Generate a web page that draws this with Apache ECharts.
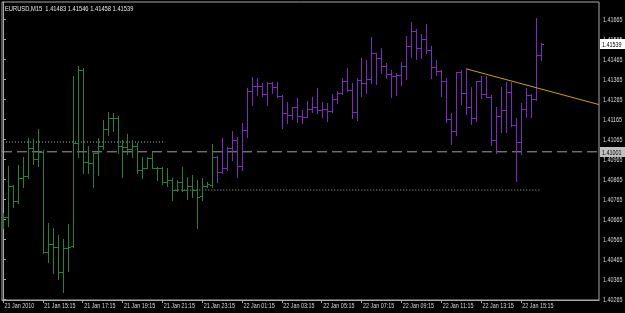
<!DOCTYPE html>
<html>
<head>
<meta charset="utf-8">
<script src="https://cdn.jsdelivr.net/npm/echarts@6/dist/echarts.min.js"></script>
<style>
  html, body { margin: 0; padding: 0; background: #000; }
  #chart { width: 625px; height: 313px; }
</style>
</head>
<body>
<div id="chart"></div>
<script>
// EURUSD M15, 21-22 Jan 2010, one bar per 15 minutes starting 21 Jan 13:15
const symbolTitle = 'EURUSD,M15  1.41483 1.41546 1.41458 1.41539';

const opens = [
  1.40650, 1.40675, 1.40830, 1.40755, 1.40870, 1.40880, 1.41020, 1.40965, 1.41000, 1.40500,
  1.40540, 1.40525, 1.40400, 1.40520, 1.40530, 1.41045, 1.41410, 1.40950, 1.40945, 1.40995,
  1.41030, 1.41115, 1.41170, 1.41170, 1.41030, 1.41025, 1.41015, 1.41030, 1.40910, 1.40920,
  1.40970, 1.40920, 1.40920, 1.40850, 1.40860, 1.40810, 1.40850, 1.40810, 1.40830, 1.40810,
  1.40780, 1.40830, 1.40835, 1.40975, 1.40900, 1.40920, 1.41020, 1.41060, 1.40930, 1.41110,
  1.41305, 1.41330, 1.41330, 1.41290, 1.41345, 1.41325, 1.41280, 1.41195, 1.41185, 1.41225,
  1.41180, 1.41175, 1.41215, 1.41225, 1.41210, 1.41215, 1.41205, 1.41265, 1.41295, 1.41355,
  1.41310, 1.41200, 1.41360, 1.41345, 1.41365, 1.41495, 1.41470, 1.41430, 1.41390, 1.41380,
  1.41385, 1.41430, 1.41530, 1.41605, 1.41520, 1.41565, 1.41510, 1.41425, 1.41405, 1.41355,
  1.41165, 1.41105, 1.41400, 1.41295, 1.41225, 1.41170, 1.41355, 1.41290, 1.41275, 1.41060,
  1.41180, 1.41210, 1.41300, 1.41135, 1.41050, 1.41215, 1.41285, 1.41265, 1.41483
];
const highs = [
  1.40695, 1.40930, 1.40835, 1.40935, 1.40975, 1.41070, 1.41065, 1.41115, 1.41010, 1.40645,
  1.40620, 1.40585, 1.40565, 1.40640, 1.41380, 1.41430, 1.41420, 1.41030, 1.40995, 1.41070,
  1.41160, 1.41200, 1.41195, 1.41180, 1.41060, 1.41090, 1.41060, 1.41045, 1.40975, 1.40975,
  1.41000, 1.40925, 1.40925, 1.40920, 1.40870, 1.40860, 1.40925, 1.40875, 1.40885, 1.40860,
  1.40870, 1.40850, 1.41040, 1.40980, 1.41070, 1.41025, 1.41105, 1.41075, 1.41145, 1.41320,
  1.41375, 1.41370, 1.41345, 1.41350, 1.41350, 1.41350, 1.41285, 1.41250, 1.41225, 1.41270,
  1.41210, 1.41255, 1.41275, 1.41320, 1.41250, 1.41245, 1.41290, 1.41305, 1.41370, 1.41420,
  1.41345, 1.41370, 1.41470, 1.41460, 1.41575, 1.41495, 1.41520, 1.41445, 1.41410, 1.41395,
  1.41450, 1.41580, 1.41650, 1.41615, 1.41590, 1.41640, 1.41530, 1.41460, 1.41410, 1.41370,
  1.41195, 1.41400, 1.41410, 1.41420, 1.41325, 1.41355, 1.41380, 1.41380, 1.41285, 1.41225,
  1.41325, 1.41350, 1.41350, 1.41170, 1.41245, 1.41320, 1.41290, 1.41670, 1.41546
];
const lows = [
  1.40620, 1.40630, 1.40725, 1.40745, 1.40825, 1.40870, 1.40940, 1.40930, 1.40495, 1.40450,
  1.40395, 1.40365, 1.40300, 1.40405, 1.40525, 1.40975, 1.40895, 1.40895, 1.40825, 1.40885,
  1.41015, 1.41085, 1.41105, 1.40995, 1.40875, 1.40990, 1.40975, 1.40895, 1.40870, 1.40920,
  1.40920, 1.40860, 1.40840, 1.40830, 1.40760, 1.40805, 1.40805, 1.40765, 1.40775, 1.40620,
  1.40760, 1.40825, 1.40825, 1.40850, 1.40895, 1.40910, 1.40960, 1.40875, 1.40910, 1.41075,
  1.41235, 1.41285, 1.41280, 1.41235, 1.41295, 1.41275, 1.41120, 1.41145, 1.41165, 1.41150,
  1.41145, 1.41175, 1.41200, 1.41195, 1.41175, 1.41155, 1.41200, 1.41245, 1.41290, 1.41305,
  1.41170, 1.41160, 1.41280, 1.41295, 1.41345, 1.41340, 1.41395, 1.41370, 1.41275, 1.41285,
  1.41335, 1.41365, 1.41475, 1.41465, 1.41470, 1.41495, 1.41370, 1.41385, 1.41280, 1.41150,
  1.41040, 1.41085, 1.41240, 1.41190, 1.41140, 1.41155, 1.41270, 1.41275, 1.41035, 1.40995,
  1.41100, 1.41100, 1.41130, 1.40855, 1.40990, 1.41175, 1.41175, 1.41260, 1.41458
];
const closes = [
  1.40675, 1.40830, 1.40755, 1.40870, 1.40880, 1.41020, 1.40965, 1.41000, 1.40500, 1.40540,
  1.40525, 1.40400, 1.40520, 1.40525, 1.41045, 1.41410, 1.40950, 1.40945, 1.40995, 1.41030,
  1.41115, 1.41170, 1.41170, 1.41030, 1.41025, 1.41015, 1.41030, 1.40910, 1.40920, 1.40970,
  1.40920, 1.40920, 1.40850, 1.40860, 1.40810, 1.40850, 1.40810, 1.40830, 1.40810, 1.40775,
  1.40830, 1.40840, 1.40975, 1.40900, 1.40920, 1.41020, 1.41060, 1.40930, 1.41110, 1.41305,
  1.41330, 1.41330, 1.41290, 1.41345, 1.41325, 1.41280, 1.41195, 1.41185, 1.41225, 1.41180,
  1.41175, 1.41215, 1.41225, 1.41210, 1.41215, 1.41205, 1.41265, 1.41295, 1.41355, 1.41310,
  1.41200, 1.41360, 1.41345, 1.41365, 1.41495, 1.41470, 1.41430, 1.41390, 1.41380, 1.41385,
  1.41430, 1.41530, 1.41605, 1.41520, 1.41565, 1.41510, 1.41425, 1.41405, 1.41355, 1.41165,
  1.41105, 1.41400, 1.41295, 1.41225, 1.41170, 1.41355, 1.41290, 1.41275, 1.41060, 1.41180,
  1.41210, 1.41300, 1.41135, 1.41050, 1.41215, 1.41285, 1.41265, 1.41485, 1.41539
];
// bars before this index are drawn green, the rest purple
const firstPurpleBar = 43;

const timeLabels = ['21 Jan 2010', '21 Jan 15:15', '21 Jan 17:15', '21 Jan 19:15', '21 Jan 21:15',
  '21 Jan 23:15', '22 Jan 01:15', '22 Jan 03:15', '22 Jan 05:15', '22 Jan 07:15',
  '22 Jan 09:15', '22 Jan 11:15', '22 Jan 13:15', '22 Jan 15:15'];
const barsPerLabel = 8;
const priceTicks = [1.41665, 1.41565, 1.41465, 1.41365, 1.41265, 1.41165, 1.41065, 1.40965,
  1.40865, 1.40765, 1.40665, 1.40565, 1.40465, 1.40365, 1.40265];

// drawn objects
const levelLine = 1.41001;
const upperDots = { from: 0, to: 32.6, price: 1.41050 };
const lowerDots = { from: 34.6, to: 108, price: 1.40810 };
const trendStart = [93.15, 1.41415];
const trendEnd = [119.7, 1.41237];
const lastPrice = 1.41539;

const bars = opens.map((o, i) => [i, o, highs[i], lows[i], closes[i]]);
const tickBars = timeLabels.map((_, i) => i * barsPerLabel);

const xMin = -0.2, xMax = 119.7;
const yMin = 1.4026, yMax = 1.4175;

// the terminal font is narrow, so text is squeezed horizontally
const font = '"Liberation Sans", Arial, sans-serif';
const squeeze = 0.72;
const axisGray = '#a8a8a8';
const textGray = '#d8d8d8';

function renderBar(params, api) {
  const i = api.value(0);
  const o = api.coord([i, api.value(1)]);
  const h = api.coord([i, api.value(2)]);
  const l = api.coord([i, api.value(3)]);
  const c = api.coord([i, api.value(4)]);
  const x = Math.round(h[0]) + 0.5;
  const oy = Math.round(o[1]) + 0.5;
  const cy = Math.round(c[1]) + 0.5;
  const style = { stroke: api.visual('color'), lineWidth: 1 };
  return {
    type: 'group',
    children: [
      { type: 'line', shape: { x1: x, y1: Math.round(h[1]), x2: x, y2: Math.round(l[1]) + 1 }, style },
      { type: 'line', shape: { x1: x - 2.5, y1: oy, x2: x, y2: oy }, style },
      { type: 'line', shape: { x1: x, y1: cy, x2: x + 2.5, y2: cy }, style }
    ]
  };
}

const chart = echarts.init(document.getElementById('chart'));
chart.setOption({
  backgroundColor: '#000',
  animation: false,
  grid: {
    left: 2, right: 26, top: 2, bottom: 13,
    show: true, borderColor: axisGray, borderWidth: 1, backgroundColor: '#000'
  },
  xAxis: {
    type: 'value',
    min: xMin, max: xMax,
    splitLine: { show: false },
    axisLine: { show: true, lineStyle: { color: axisGray } },
    axisTick: { show: true, customValues: tickBars, length: 3, lineStyle: { color: axisGray } },
    axisLabel: { show: false }
  },
  yAxis: {
    type: 'value',
    position: 'right',
    min: yMin, max: yMax,
    scale: true,
    splitLine: { show: false },
    axisLine: { show: true, lineStyle: { color: axisGray } },
    axisTick: { show: true, customValues: priceTicks, length: 3, lineStyle: { color: axisGray } },
    axisLabel: { show: false }
  },
  series: [
    {
      type: 'custom', name: 'bars-green',
      renderItem: renderBar,
      itemStyle: { color: '#28803f' },
      encode: { x: 0, y: [1, 2, 3, 4] },
      data: bars.slice(0, firstPurpleBar),
      z: 3
    },
    {
      type: 'custom', name: 'bars-purple',
      renderItem: renderBar,
      itemStyle: { color: '#7b2cba' },
      encode: { x: 0, y: [1, 2, 3, 4] },
      data: bars.slice(firstPurpleBar),
      z: 3
    },
    {
      type: 'line', name: 'upper-dots',
      data: [[upperDots.from, upperDots.price], [upperDots.to, upperDots.price]],
      symbol: 'none',
      lineStyle: { color: '#b0b0b0', width: 1, type: [1, 2] },
      z: 2
    },
    {
      type: 'line', name: 'lower-dots',
      data: [[lowerDots.from, lowerDots.price], [lowerDots.to, lowerDots.price]],
      symbol: 'none',
      lineStyle: { color: '#b0b0b0', width: 1, type: [1, 2] },
      z: 2
    },
    {
      type: 'line', name: 'trend',
      data: [trendStart, trendEnd],
      symbol: 'none',
      lineStyle: { color: '#d0a000', width: 1 },
      z: 4
    },
    {
      type: 'line', name: 'level',
      data: [[xMin, levelLine], [xMax, levelLine]],
      symbol: 'none',
      lineStyle: { color: '#a0a0a0', width: 1, type: [10, 5] },
      z: 1
    }
  ]
});

// labels are placed with the chart's own scales, then squeezed to the narrow terminal font
function toPx(x, y) {
  return chart.convertToPixel({ xAxisIndex: 0, yAxisIndex: 0 }, [x, y]);
}
function squeezedText(text, x, y, fill, size) {
  return {
    type: 'text', x: x, y: y, scaleX: squeeze, z: 10,
    style: { text: text, fill: fill || textGray, fontSize: size || 7.5, fontFamily: font,
      align: 'left', verticalAlign: 'middle' }
  };
}
function priceBox(price, bg) {
  const p = toPx(xMax, price);
  return {
    type: 'group', z: 11,
    children: [
      { type: 'rect', shape: { x: p[0] + 1, y: Math.round(p[1]) - 5, width: 25, height: 10 },
        style: { fill: bg }, z: 11 },
      Object.assign(squeezedText(price.toFixed(5), p[0] + 3, Math.round(p[1]) + 0.5, '#000'), { z: 12 })
    ]
  };
}

const graphics = [squeezedText(symbolTitle, 5, 8.5, '#e8e8e8', 8)];
priceTicks.forEach(v => {
  const p = toPx(xMax, v);
  graphics.push(squeezedText(v.toFixed(5), p[0] + 4, p[1] + 0.5));
});
tickBars.forEach((b, i) => {
  const p = toPx(b, yMin);
  graphics.push(squeezedText(timeLabels[i], p[0] + 1.5, p[1] + 5.5));
});
graphics.push(priceBox(lastPrice, '#ffffff'));
graphics.push(priceBox(levelLine, '#c0c0c0'));

chart.setOption({ graphic: { elements: graphics } });
</script>
</body>
</html>
